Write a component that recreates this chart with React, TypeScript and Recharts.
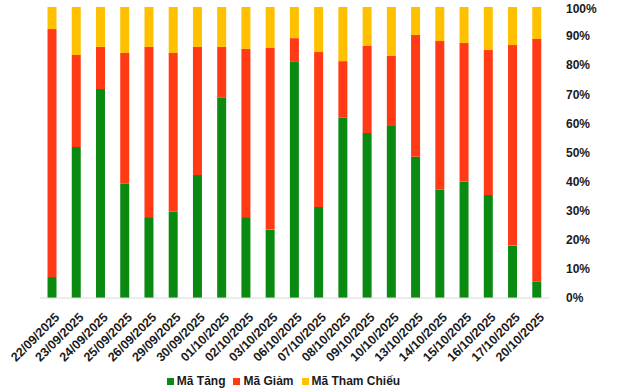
import { BarChart, Bar, XAxis, YAxis, CartesianGrid, Legend } from 'recharts';

const dates = [
  '22/09/2025', '23/09/2025', '24/09/2025', '25/09/2025', '26/09/2025', '29/09/2025', '30/09/2025',
  '01/10/2025', '02/10/2025', '03/10/2025', '06/10/2025', '07/10/2025', '08/10/2025', '09/10/2025',
  '10/10/2025', '13/10/2025', '14/10/2025', '15/10/2025', '16/10/2025', '17/10/2025', '20/10/2025',
];
const tang = [7.2, 51.9, 71.8, 39.3, 27.8, 29.7, 42.3, 68.8, 27.8, 23.5, 81.4, 31.3, 62.0, 56.7, 59.1, 48.5, 37.2, 40.0, 35.4, 18.0, 5.6];
const giam = [85.2, 31.6, 14.5, 44.9, 58.5, 54.5, 44.0, 17.5, 57.8, 62.4, 7.9, 53.2, 19.4, 29.9, 24.1, 41.9, 51.1, 47.6, 49.8, 68.9, 83.4];
const thamChieu = [7.6, 16.5, 13.7, 15.8, 13.7, 15.8, 13.7, 13.7, 14.4, 14.1, 10.7, 15.5, 18.6, 13.4, 16.8, 9.6, 11.7, 12.4, 14.8, 13.1, 11.0];
const yTicks = [0, 0.1, 0.2, 0.3, 0.4, 0.5, 0.6, 0.7, 0.8, 0.9, 1];

const data = dates.map((d, i) => ({ date: d, tang: tang[i], giam: giam[i], tham: thamChieu[i] }));

const series = [
  { key: 'tang', name: 'Mã Tăng', color: '#0B8A12' },
  { key: 'giam', name: 'Mã Giảm', color: '#FF3A14' },
  { key: 'tham', name: 'Mã Tham Chiếu', color: '#FFC000' },
];

const font = '"Liberation Sans", Arial, sans-serif';

function DateTick({ x, y, payload }: any) {
  return (
    <g transform={`translate(${x + 5},${y + 9})`}>
      <text textAnchor="end" transform="rotate(-45)" dy="0.35em" fontFamily={font} fontSize={12.5} fontWeight="bold" fill="#1a1a1a">
        {payload.value}
      </text>
    </g>
  );
}

function PctTick({ x, y, payload }: any) {
  return (
    <text x={x + 9} y={y} dy="0.35em" textAnchor="start" fontFamily={font} fontSize={12} fontWeight="bold" fill="#1a1a1a">
      {`${Math.round(payload.value * 100)}%`}
    </text>
  );
}

function LegendBox() {
  return (
    <div style={{ height: 18, width: 567, display: 'flex', justifyContent: 'center', alignItems: 'center', fontFamily: font, fontSize: 12, fontWeight: 'bold', color: '#1a1a1a' }}>
      {series.map((s) => (
        <span key={s.key} style={{ display: 'flex', alignItems: 'center', margin: '0 4px' }}>
          <span style={{ width: 7, height: 7, background: s.color, marginRight: 3 }} />
          {s.name}
        </span>
      ))}
    </div>
  );
}

export default function App() {
  return (
    <div style={{ position: 'absolute', left: 0, top: 0, background: '#fff' }}>
      <BarChart width={640} height={391} data={data} stackOffset="expand" barCategoryGap="31%"
        margin={{ top: 7, right: 0, bottom: 1, left: 40 }}>
        <CartesianGrid horizontal={false} vertical={false} />
        <XAxis dataKey="date" interval={0} height={74} tick={<DateTick />} tickLine={false} axisLine={{ stroke: '#d9d9d9' }} />
        <YAxis orientation="right" width={91} domain={[0, 1]} ticks={yTicks} tick={<PctTick />} axisLine={false} tickLine={false} />
        <Legend verticalAlign="bottom" content={<LegendBox />} wrapperStyle={{ left: 0 }} />
        {series.map((s) => (
          <Bar key={s.key} dataKey={s.key} name={s.name} stackId="a" fill={s.color} isAnimationActive={false} />
        ))}
      </BarChart>
    </div>
  );
}
